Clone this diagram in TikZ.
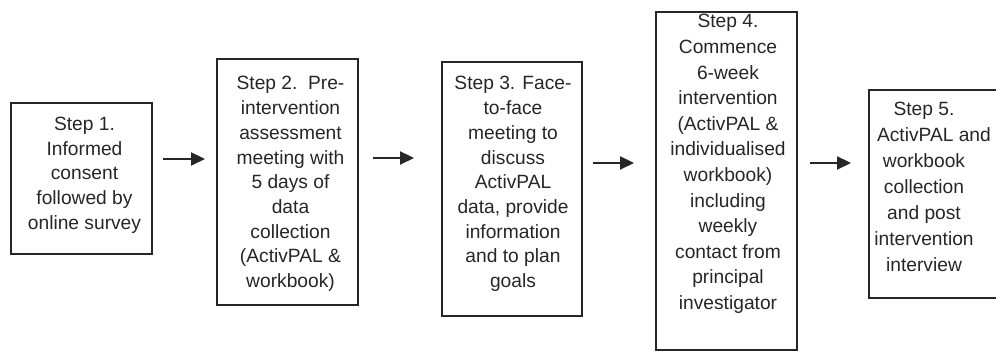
\documentclass[tikz,border=0pt]{standalone}
\usepackage{fontspec}
\setmainfont{Liberation Sans}
\usetikzlibrary{arrows.meta,calc}
\begin{document}
\begin{tikzpicture}[x=1pt,y=1pt,
  stepbox/.style={draw=black!85,line width=1.3pt,minimum width=141pt,inner sep=0pt},
  steptext/.style={align=center,inner sep=0pt,font=\fontsize{19.2pt}{24.7pt}\selectfont,text=black!85},
  flow/.style={line width=2.2pt,draw=black!85,-{Triangle[length=14pt,width=13pt]}}]
\useasboundingbox (0,0) rectangle (996,352);
% boxes (y = 352 - image y)
\node[stepbox,minimum height=151pt] (b1) at (81.5,173.5) {};
\node[stepbox,minimum height=246pt] (b2) at (287.5,170) {};
\node[stepbox,minimum width=140pt,minimum height=254pt] (b3) at (512,163) {};
\node[stepbox,minimum height=338pt] (b4) at (726.5,171) {};
\node[stepbox,minimum height=208pt] (b5) at (939.5,158) {};
% texts
\node[steptext] (t1) at (84.5,177) {Step 1.\\Informed\\consent\\followed by\\online survey};
\node[steptext] (t2) at (290.5,168) {Step 2.\ \ Pre-\\intervention\\assessment\\meeting with\\5 days of\\data\\collection\\(ActivPAL \&\\workbook)};
\node[steptext] (t3) at (513,168) {Step 3. Face-\\to-face\\meeting to\\discuss\\ActivPAL\\data, provide\\information\\and to plan\\goals};
\node[steptext,font=\fontsize{19.2pt}{25.6pt}\selectfont] (t4) at (728,188) {Step 4.\\Commence\\6-week\\intervention\\(ActivPAL \&\\individualised\\workbook)\\including\\weekly\\contact from\\principal\\investigator};
\node[steptext,font=\fontsize{19.2pt}{26pt}\selectfont] (t5) at (924,165) {Step 5.\\\makebox[100pt][l]{\hspace*{3pt}ActivPAL and}\\workbook\\collection\\and post\\intervention\\interview};
% arrows
\coordinate (a1s) at (163,193);
\coordinate (a1e) at (205,193);
\coordinate (a2s) at (373,194);
\coordinate (a2e) at (414,194);
\coordinate (a3s) at (593,189);
\coordinate (a3e) at (634,189);
\coordinate (a4s) at (810,189);
\coordinate (a4e) at (851,189);
\draw[flow] (a1s) -- (a1e);
\draw[flow] (a2s) -- (a2e);
\draw[flow] (a3s) -- (a3e);
\draw[flow] (a4s) -- (a4e);
\end{tikzpicture}
\end{document}
